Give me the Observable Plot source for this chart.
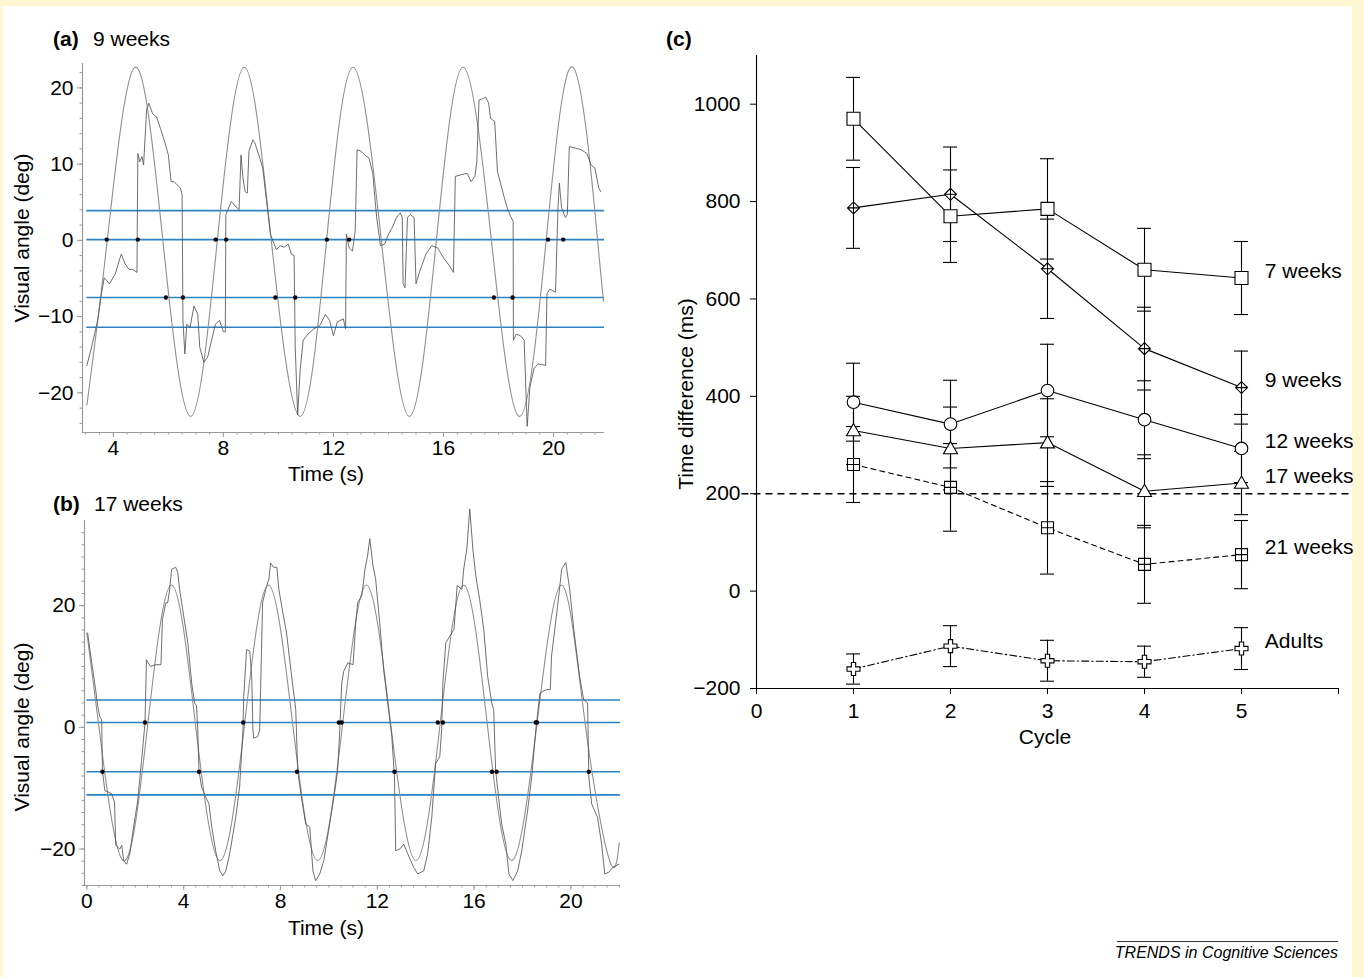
<!DOCTYPE html>
<html>
<head>
<meta charset="utf-8">
<script src="https://cdn.jsdelivr.net/npm/d3@7"></script>
<script src="https://cdn.jsdelivr.net/npm/@observablehq/plot@0.6"></script>
<style>
  html, body { margin: 0; padding: 0; background: #fff7d2; }
  #wrap { position: relative; width: 1364px; height: 977px; background: #fff7d2; overflow: hidden;
          font-family: "Liberation Sans", Arial, sans-serif; color: #000; }
  #paper { position: absolute; left: 3px; top: 6px; width: 1349px; height: 971px; background: #fff; }
  .plot { position: absolute; }
  .t { position: absolute; white-space: nowrap; line-height: 21px; font-size: 21px; }
  .c { position: absolute; white-space: nowrap; font-size: 21px; line-height: 21px; transform: translate(-50%, -50%); }
  .r { position: absolute; white-space: nowrap; font-size: 21px; line-height: 21px; transform: translate(-50%, -50%) rotate(-90deg); }
</style>
</head>
<body>
<div id="wrap">
  <div id="paper"></div>
</div>
<script>
// ---------------- Panel (a): 9 weeks ----------------
const ticksAx = [4, 8, 12, 16, 20];
const ticksAy = [-20, -10, 0, 10, 20];
const domainAx = [2.88, 21.85];
const domainAy = [-25.2, 23.2];
// target (sine) key points: [time, angle]
const targetA = [[3.04,-21.6],[3.78,0],[4.79,22.7],[5.8,0],[6.81,-23.1],[7.78,0],[8.76,22.7],[9.74,0],[10.79,-23.1],[11.75,0],[12.71,22.7],[13.74,0],[14.76,-23.1],[15.74,0],[16.71,22.7],[17.74,0],[18.76,-23.1],[19.73,0],[20.71,22.7],[21.6,0],[21.82,-8]];
// eye position trace
const eyeA = [[3.04,-16.4],[3.21,-14],[3.43,-10.5],[3.57,-7],[3.67,-4.9],[3.86,-5.7],[4.07,-4.4],[4.21,-2.7],[4.29,-1.8],[4.43,-3.1],[4.57,-3.8],[4.71,-3.8],[4.86,-4.2],[4.89,11.4],[4.96,10.3],[5.04,11.0],[5.1,9.9],[5.21,17.1],[5.29,18],[5.43,16.6],[5.57,16.2],[5.71,14.7],[5.86,13],[6.0,11.2],[6.1,7.7],[6.21,7.7],[6.31,7.3],[6.43,6.9],[6.5,6],[6.53,-10.5],[6.6,-14.9],[6.67,-11],[6.79,-11.4],[6.93,-8.6],[7.07,-9.7],[7.14,-14],[7.29,-16],[7.43,-15.3],[7.57,-13.1],[7.71,-11],[7.86,-10.5],[8.0,-12],[8.07,-12],[8.09,3.4],[8.29,5.1],[8.43,4.5],[8.57,4],[8.64,11.2],[8.71,8.2],[8.79,6.4],[8.87,6.2],[8.93,11.7],[9.07,13.2],[9.14,12.8],[9.29,11.2],[9.43,9.5],[9.57,5.1],[9.71,0.8],[9.79,0],[9.93,-1.2],[10.07,-0.7],[10.21,-0.9],[10.36,-0.5],[10.47,-1.8],[10.57,-2],[10.61,-14],[10.7,-22.9],[10.79,-17],[10.9,-13.1],[11.07,-12.3],[11.29,-11.6],[11.5,-11.2],[11.71,-9.7],[11.86,-10.5],[12.0,-12.5],[12.14,-10.7],[12.36,-10.3],[12.44,-11.6],[12.47,0.8],[12.57,-1],[12.69,-1.4],[12.79,1.2],[12.86,11.9],[13.0,11.7],[13.14,11.2],[13.29,10.8],[13.43,8.8],[13.5,5.8],[13.57,3],[13.71,-0.7],[13.86,-0.5],[14.0,0.8],[14.14,1.7],[14.29,3],[14.43,3.6],[14.5,3],[14.53,-5.7],[14.6,-6.2],[14.69,3],[14.79,3.4],[14.93,3],[15.0,-5.7],[15.14,-4],[15.36,-1.8],[15.57,-0.7],[15.79,-1],[16.0,-2.3],[16.21,-3.3],[16.36,-4.2],[16.43,8.4],[16.64,8.6],[16.86,8.8],[17.0,7.7],[17.14,8.4],[17.21,10.3],[17.29,18.4],[17.43,18.6],[17.53,18.8],[17.64,18],[17.71,16],[17.86,15.6],[17.96,9],[18.07,7.5],[18.21,5.6],[18.31,4.3],[18.43,3.2],[18.53,2.5],[18.54,-13.1],[18.64,-12.3],[18.79,-12.5],[18.93,-13.1],[19.04,-24.4],[19.14,-19.2],[19.29,-16.8],[19.43,-16.2],[19.71,-16.4],[19.76,-7],[19.86,-6.4],[20.07,-6.8],[20.16,4.3],[20.21,7.5],[20.29,4.3],[20.43,3],[20.5,3.4],[20.57,12.3],[20.79,12.1],[21.0,11.9],[21.21,11.4],[21.36,9.9],[21.5,9.5],[21.64,6.9],[21.71,6.4]];
const levelsA = [3.9, 0.1, -7.5, -11.4];
const levelsAStart = 3.04, levelsAEnd = 21.85;
const crossA0 = [3.76, 4.89, 7.72, 8.1, 11.76, 12.57, 19.8, 20.35];   // on level 0.1
const crossA1 = [5.91, 6.53, 9.89, 10.61, 17.83, 18.51];              // on level -7.5

// ---------------- Panel (b): 17 weeks ----------------
const ticksBx = [0, 4, 8, 12, 16, 20];
const ticksBy = [-20, 0, 20];
const domainBx = [-0.1, 22.05];
const domainBy = [-26, 34];
const targetB = [[0,15.5],[0.5,0],[1.5,-21.9],[2.5,0],[3.5,23.4],[4.5,0],[5.5,-21.9],[6.5,0],[7.5,23.4],[8.52,0],[9.54,-21.9],[10.55,0],[11.55,23.4],[12.57,0],[13.6,-21.9],[14.58,0],[15.57,23.4],[16.56,0],[17.55,-21.9],[18.58,0],[19.62,23.4],[20.61,0],[21.6,-21.9],[22.0,-19]];
const eyeB = [[0.03,15.5],[0.2,10.6],[0.36,6.2],[0.45,3.4],[0.53,1.8],[0.61,1.2],[0.64,-7.1],[0.74,-10.4],[0.86,-10.6],[1.02,-10.9],[1.14,-12.3],[1.19,-19.4],[1.36,-20],[1.44,-19.4],[1.52,-21.9],[1.64,-22.5],[1.77,-20.8],[1.93,-16.4],[2.1,-12],[2.26,-5.4],[2.4,0.7],[2.46,11.1],[2.63,10],[2.84,10.3],[3.06,10.3],[3.12,17.7],[3.26,20.5],[3.34,20.5],[3.42,22.7],[3.5,26],[3.67,26.3],[3.75,25.5],[3.83,22.7],[4.0,18.3],[4.17,13.9],[4.33,7.3],[4.45,4],[4.53,3.6],[4.58,-0.4],[4.63,-7.1],[4.74,-9.8],[4.91,-11.5],[5.04,-12.5],[5.16,-16.4],[5.32,-20.3],[5.49,-23.6],[5.62,-24.4],[5.74,-23.6],[5.9,-20.8],[6.15,-14.8],[6.31,-9.8],[6.45,-0.4],[6.48,5.1],[6.6,12.8],[6.73,12.5],[6.81,8.4],[6.86,-0.4],[6.89,-1.8],[7.06,-1.5],[7.14,-0.4],[7.19,8.4],[7.26,20.5],[7.39,22.7],[7.52,24.4],[7.59,27],[7.72,26.3],[7.85,26.3],[7.93,22.7],[8.05,19.9],[8.25,15.5],[8.46,8.4],[8.63,2.9],[8.71,-7.1],[8.84,-10.9],[9.04,-15.9],[9.21,-16.4],[9.34,-23.6],[9.45,-25.2],[9.62,-24.1],[9.79,-21.9],[10.03,-15.9],[10.23,-10.9],[10.36,-7.1],[10.45,-0.4],[10.53,7.3],[10.61,9.2],[10.78,10.6],[11.0,10.3],[11.11,17.2],[11.19,20.5],[11.36,21.6],[11.49,26],[11.6,28.2],[11.69,31],[11.82,26.6],[11.93,24.4],[12.1,17.2],[12.26,9.5],[12.43,4],[12.6,-1.5],[12.71,-8.2],[12.76,-20.3],[12.93,-20],[13.09,-19.2],[13.26,-20.8],[13.5,-23],[13.67,-24.1],[13.92,-23.6],[14.08,-20.8],[14.25,-14.8],[14.41,-6],[14.58,-4.8],[14.66,-0.4],[14.71,7.3],[14.83,13.9],[15.0,15],[15.17,16.1],[15.3,23.3],[15.5,22.7],[15.57,26],[15.7,29.3],[15.82,35.9],[15.95,29.3],[16.07,24.9],[16.23,21],[16.4,16.1],[16.56,8.4],[16.73,4],[16.81,2.9],[16.89,-7.1],[16.98,-10.4],[17.14,-15.9],[17.31,-19.2],[17.44,-24.1],[17.6,-25.2],[17.8,-23.6],[17.97,-20.3],[18.21,-13.7],[18.38,-8.2],[18.55,-0.4],[18.72,5.6],[18.97,6.2],[19.15,6.2],[19.2,11.7],[19.45,19.9],[19.62,26],[19.79,27.1],[19.95,22.7],[20.12,16.1],[20.36,8.4],[20.53,4.5],[20.69,4],[20.74,-8.2],[20.86,-12.6],[21.1,-14.8],[21.27,-19.2],[21.4,-24.1],[21.57,-23.8],[21.74,-23],[21.98,-22.5]];
const levelsB = [4.5, 0.8, -7.3, -11.1];
const levelsBStart = 0.0, levelsBEnd = 22.05;
const crossB0 = [2.4, 6.46, 10.41, 10.53, 14.5, 14.71, 18.55, 18.6];
const crossB1 = [0.64, 4.63, 8.68, 12.71, 16.74, 16.93, 20.74];

// ---------------- Panel (c): time difference ----------------
const cycles = [1, 2, 3, 4, 5];
const seriesNames = ["7 weeks", "9 weeks", "12 weeks", "17 weeks", "21 weeks", "Adults"];
const w7  = [970, 770, 785, 660, 643];   const w7Err  = [85, 95, 103, 85, 75];
const w9  = [787, 815, 662, 498, 418];   const w9Err  = [83, 97, 102, 85, 75];
const w12 = [388, 343, 412, 352, 293];   const w12Err = [80, 90, 95, 80, 70];
const w17 = [330, 293, 305, 205, 222];   const w17Err = [70, 85, 90, 75, 65];
const w21 = [260, 213, 130, 55, 75];     const w21Err = [78, 90, 95, 80, 70];
const adults = [-160, -113, -143, -145, -118]; const adultsErr = [31, 42, 42, 32, 43];
const threshold = 200;
const ticksCx = [0, 1, 2, 3, 4, 5, 6];
const ticksCy = [-200, 0, 200, 400, 600, 800, 1000];
const domainCx = [0, 6];
const domainCy = [-200, 1100];

// ------------- helpers -------------
const FONT = "'Liberation Sans', Arial, sans-serif";
const wrap = document.getElementById("wrap");
const fmt = d => d < 0 ? "\u2212" + Math.abs(d) : String(d);
function place(node, left, top) {
  node.classList.add("plot");
  node.style.left = left + "px";
  node.style.top = top + "px";
  wrap.appendChild(node);
}
function addText(cls, html, x, y, extra) {
  const d = document.createElement("div");
  d.className = cls;
  d.innerHTML = html;
  d.style.left = x + "px";
  d.style.top = y + "px";
  if (extra) Object.assign(d.style, extra);
  wrap.appendChild(d);
}
const AX = "#9a9a9a";
const BLUE = "#2b82c4";

function tracePanel(cfg) {
  const minorX = d3.range(Math.ceil(cfg.dx[0] * 2) / 2, cfg.dx[1], 0.5);
  const minorY = d3.range(Math.ceil(cfg.dy[0] / 2) * 2, cfg.dy[1], 2);
  const levelRows = cfg.levels.map(v => ({v}));
  const dots = [
    ...cfg.cross0.map(t => ({t, v: cfg.levels[1]})),
    ...cfg.cross1.map(t => ({t, v: cfg.levels[2]}))
  ];
  return Plot.plot({
    width: cfg.width, height: cfg.height,
    marginLeft: cfg.ml, marginRight: cfg.mr, marginTop: cfg.mt, marginBottom: cfg.mb,
    x: {domain: cfg.dx, label: null},
    y: {domain: cfg.dy, label: null},
    style: {fontFamily: FONT, fontSize: "21px", background: "transparent", overflow: "visible", color: "#000"},
    marks: [
      Plot.ruleY([cfg.dy[0]], {stroke: AX, strokeWidth: 1.2}),
      Plot.ruleX([cfg.dx[0]], {stroke: AX, strokeWidth: 1.2}),
      Plot.axisX(minorX, {tickSize: 2.5, tickFormat: () => "", stroke: AX}),
      Plot.axisY(minorY, {tickSize: 2.5, tickFormat: () => "", stroke: AX}),
      Plot.axisX(cfg.tx, {tickSize: 5, tickPadding: 3, stroke: AX, tickFormat: fmt}),
      Plot.axisY(cfg.ty, {tickSize: 5, tickPadding: 4, stroke: AX, tickFormat: fmt}),
      Plot.ruleY(levelRows, {y: "v", x1: cfg.ls, x2: cfg.le, stroke: BLUE, strokeWidth: 1.6}),
      Plot.line(cfg.target, {x: d => d[0], y: d => d[1], curve: "natural", stroke: "#8f8f8f", strokeWidth: 1.1}),
      Plot.line(cfg.eye, {x: d => d[0], y: d => d[1], stroke: "#555", strokeWidth: 0.85}),
      Plot.dot(dots, {x: "t", y: "v", r: 2.2, fill: "#000", stroke: null})
    ]
  });
}

// ----- panel a
place(tracePanel({
  width: 640, height: 490, ml: 82, mr: 36, mt: 63, mb: 58,
  dx: domainAx, dy: domainAy, tx: ticksAx, ty: ticksAy,
  target: targetA, eye: eyeA, levels: levelsA, ls: levelsAStart, le: levelsAEnd,
  cross0: crossA0, cross1: crossA1
}), 0, 0);

// ----- panel b
place(tracePanel({
  width: 640, height: 470, ml: 84, mr: 20, mt: 30, mb: 75,
  dx: domainBx, dy: domainBy, tx: ticksBx, ty: ticksBy,
  target: targetB, eye: eyeB, levels: levelsB, ls: levelsBStart, le: levelsBEnd,
  cross0: crossB0, cross1: crossB1
}), 0, 490);

// ----- panel c symbols
const symSquare = {draw(ctx, size) { const s = Math.sqrt(size / Math.PI); ctx.rect(-s, -s, 2 * s, 2 * s); }};
const symSquarePlus = {draw(ctx, size) { const s = Math.sqrt(size / Math.PI); ctx.rect(-s, -s, 2 * s, 2 * s);
  ctx.moveTo(0, -s); ctx.lineTo(0, s); ctx.moveTo(-s, 0); ctx.lineTo(s, 0); }};
const symDiamondPlus = {draw(ctx, size) { const s = Math.sqrt(size / Math.PI);
  ctx.moveTo(0, -s); ctx.lineTo(s, 0); ctx.lineTo(0, s); ctx.lineTo(-s, 0); ctx.closePath();
  ctx.moveTo(0, -s); ctx.lineTo(0, s); ctx.moveTo(-s, 0); ctx.lineTo(s, 0); }};
const symTriangle = {draw(ctx, size) { const s = Math.sqrt(size / Math.PI);
  ctx.moveTo(0, -s); ctx.lineTo(s, 0.75 * s); ctx.lineTo(-s, 0.75 * s); ctx.closePath(); }};
const symCross = {draw(ctx, size) { const a = Math.sqrt(size / Math.PI), b = a / 3;
  ctx.moveTo(-b, -a); ctx.lineTo(b, -a); ctx.lineTo(b, -b); ctx.lineTo(a, -b); ctx.lineTo(a, b); ctx.lineTo(b, b);
  ctx.lineTo(b, a); ctx.lineTo(-b, a); ctx.lineTo(-b, b); ctx.lineTo(-a, b); ctx.lineTo(-a, -b); ctx.lineTo(-b, -b); ctx.closePath(); }};

const seriesDefs = [
  {name: seriesNames[0], values: w7,     err: w7Err,     symbol: symSquare,      r: 6.5, dash: null},
  {name: seriesNames[1], values: w9,     err: w9Err,     symbol: symDiamondPlus, r: 6,   dash: null},
  {name: seriesNames[2], values: w12,    err: w12Err,    symbol: "circle",       r: 6.3, dash: null},
  {name: seriesNames[3], values: w17,    err: w17Err,    symbol: symTriangle,    r: 7,   dash: null},
  {name: seriesNames[4], values: w21,    err: w21Err,    symbol: symSquarePlus,  r: 6,   dash: "5,4"},
  {name: seriesNames[5], values: adults, err: adultsErr, symbol: symCross,       r: 6.5, dash: "7,3,1.5,3"}
];
const rows = seriesDefs.flatMap(s => cycles.map((c, i) => ({
  series: s.name, cycle: c, value: s.values[i], lo: s.values[i] - s.err[i], hi: s.values[i] + s.err[i]
})));
const lastRows = seriesDefs.map(s => ({series: s.name, cycle: cycles[cycles.length - 1], value: s.values[s.values.length - 1]}));
const cap = 0.072;

const cMarks = [
  Plot.ruleY([threshold], {x1: -0.15, x2: 6.12, stroke: "#000", strokeWidth: 1.3, strokeDasharray: "7,5"}),
  Plot.ruleX([domainCx[0]], {y1: domainCy[0], y2: domainCy[1], stroke: "#000", strokeWidth: 1.1}),
  Plot.ruleY([domainCy[0]], {x1: domainCx[0], x2: domainCx[1], stroke: "#000", strokeWidth: 1.1}),
  Plot.axisX(ticksCx, {tickSize: 6, tickPadding: 9, tickFormat: d => d === 6 ? "" : String(d)}),
  Plot.axisY(ticksCy, {tickSize: 6, tickPadding: 10, tickFormat: fmt}),
  Plot.ruleX(rows, {x: "cycle", y1: "lo", y2: "hi", stroke: "#000", strokeWidth: 1.1}),
  Plot.ruleY(rows, {y: "hi", x1: d => d.cycle - cap, x2: d => d.cycle + cap, stroke: "#000", strokeWidth: 1.1}),
  Plot.ruleY(rows, {y: "lo", x1: d => d.cycle - cap, x2: d => d.cycle + cap, stroke: "#000", strokeWidth: 1.1})
];
for (const s of seriesDefs) {
  const data = rows.filter(d => d.series === s.name);
  cMarks.push(Plot.line(data, {x: "cycle", y: "value", stroke: "#000", strokeWidth: 1.1,
    strokeDasharray: s.dash || undefined}));
}
for (const s of seriesDefs) {
  const data = rows.filter(d => d.series === s.name);
  cMarks.push(Plot.dot(data, {x: "cycle", y: "value", symbol: () => s.symbol, r: s.r,
    fill: "#fff", stroke: "#000", strokeWidth: 1.1}));
}
cMarks.push(Plot.text(lastRows, {x: () => 5.24, y: "value", text: "series", textAnchor: "start",
  dy: -7, fontSize: 21, fill: "#000"}));

place(Plot.plot({
  width: 724, height: 780, marginLeft: 116, marginRight: 26, marginTop: 55, marginBottom: 92,
  x: {domain: domainCx, label: null},
  y: {domain: domainCy, label: null},
  symbol: {type: "identity"},
  style: {fontFamily: FONT, fontSize: "21px", background: "transparent", overflow: "visible", color: "#000"},
  marks: cMarks
}), 640, 0);

// ----- titles & axis labels
addText("t", "<b>(a)</b>", 53, 28);
addText("t", "9 weeks", 93, 28);
addText("t", "<b>(b)</b>", 53, 493);
addText("t", "17 weeks", 94, 493);
addText("t", "<b>(c)</b>", 666, 28);
addText("c", "Time (s)", 326, 473);
addText("c", "Time (s)", 326, 927);
addText("r", "Visual angle (deg)", 21, 238);
addText("r", "Visual angle (deg)", 21, 727);
addText("r", "Time difference (ms)", 685, 394);
addText("c", "Cycle", 1045, 736);
const cap2 = document.createElement("div");
cap2.style.cssText = "position:absolute;left:1117px;top:941px;width:221px;border-top:1px solid #333;";
wrap.appendChild(cap2);
addText("t", "<i>TRENDS in Cognitive Sciences</i>", 1338, 944, {fontSize: "16px", lineHeight: "18px", transform: "translateX(-100%)"});
</script>
</body>
</html>
